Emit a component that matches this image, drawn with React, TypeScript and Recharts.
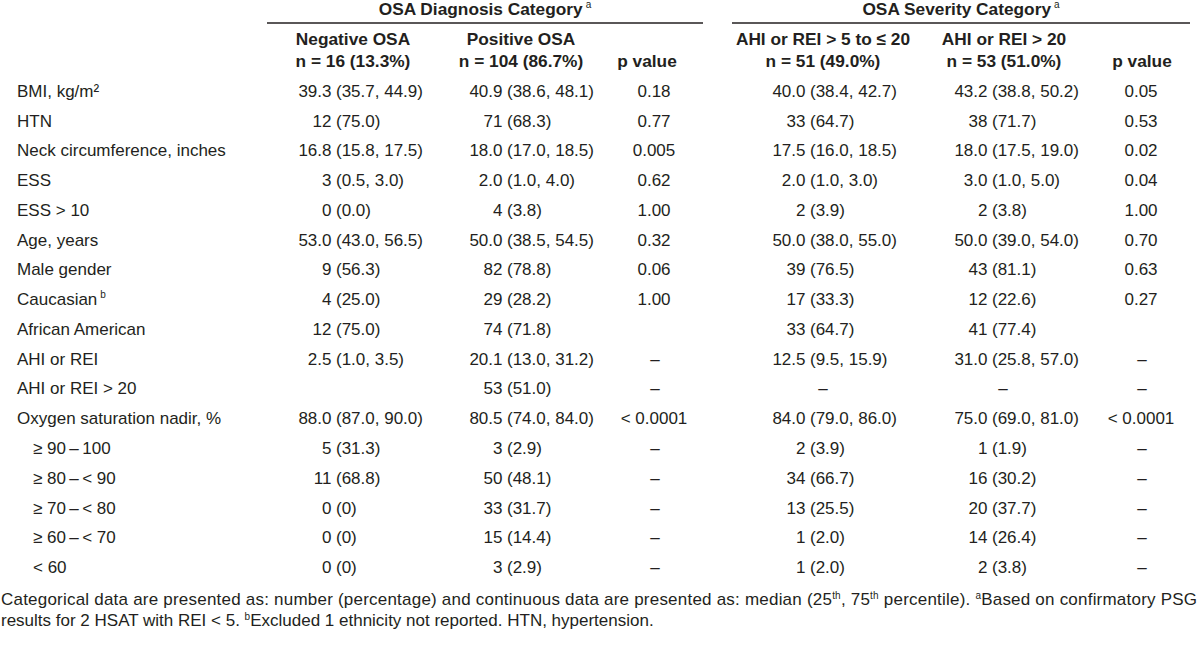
import React from "react";
import { ScatterChart, Scatter, XAxis, YAxis, Customized } from "recharts";

// rows of the table (top to bottom)
const rowLabels = [
  "BMI, kg/m²",
  "HTN",
  "Neck circumference, inches",
  "ESS",
  "ESS > 10",
  "Age, years",
  "Male gender",
  "Caucasian",
  "African American",
  "AHI or REI",
  "AHI or REI > 20",
  "Oxygen saturation nadir, %",
  "≥ 90\u2009–\u2009100",
  "≥ 80\u2009–\u2009< 90",
  "≥ 70\u2009–\u2009< 80",
  "≥ 60\u2009–\u2009< 70",
  "< 60",
];
const subRows = rowLabels.slice(12);
const labelNotes: Record<string, string> = { Caucasian: "b" };

const negativeOsa = [
  "39.3 (35.7, 44.9)", "12 (75.0)", "16.8 (15.8, 17.5)", "3 (0.5, 3.0)", "0 (0.0)",
  "53.0 (43.0, 56.5)", "9 (56.3)", "4 (25.0)", "12 (75.0)", "2.5 (1.0, 3.5)", "",
  "88.0 (87.0, 90.0)", "5 (31.3)", "11 (68.8)", "0 (0)", "0 (0)", "0 (0)",
];
const positiveOsa = [
  "40.9 (38.6, 48.1)", "71 (68.3)", "18.0 (17.0, 18.5)", "2.0 (1.0, 4.0)", "4 (3.8)",
  "50.0 (38.5, 54.5)", "82 (78.8)", "29 (28.2)", "74 (71.8)", "20.1 (13.0, 31.2)", "53 (51.0)",
  "80.5 (74.0, 84.0)", "3 (2.9)", "50 (48.1)", "33 (31.7)", "15 (14.4)", "3 (2.9)",
];
const pDiagnosis = [
  "0.18", "0.77", "0.005", "0.62", "1.00", "0.32", "0.06", "1.00", "", "–", "–",
  "< 0.0001", "–", "–", "–", "–", "–",
];
const ahiModerate = [
  "40.0 (38.4, 42.7)", "33 (64.7)", "17.5 (16.0, 18.5)", "2.0 (1.0, 3.0)", "2 (3.9)",
  "50.0 (38.0, 55.0)", "39 (76.5)", "17 (33.3)", "33 (64.7)", "12.5 (9.5, 15.9)", "–",
  "84.0 (79.0, 86.0)", "2 (3.9)", "34 (66.7)", "13 (25.5)", "1 (2.0)", "1 (2.0)",
];
const ahiSevere = [
  "43.2 (38.8, 50.2)", "38 (71.7)", "18.0 (17.5, 19.0)", "3.0 (1.0, 5.0)", "2 (3.8)",
  "50.0 (39.0, 54.0)", "43 (81.1)", "12 (22.6)", "41 (77.4)", "31.0 (25.8, 57.0)", "–",
  "75.0 (69.0, 81.0)", "1 (1.9)", "16 (30.2)", "20 (37.7)", "14 (26.4)", "2 (3.8)",
];
const pSeverity = [
  "0.05", "0.53", "0.02", "0.04", "1.00", "0.70", "0.63", "0.27", "", "–", "–",
  "< 0.0001", "–", "–", "–", "–", "–",
];

const groupTitles = ["OSA Diagnosis Category", "OSA Severity Category"];
const columnTitles = [
  ["Negative OSA", "n = 16 (13.3%)"],
  ["Positive OSA", "n = 104 (86.7%)"],
  ["", "p value"],
  ["AHI or REI > 5 to ≤ 20", "n = 51 (49.0%)"],
  ["AHI or REI > 20", "n = 53 (51.0%)"],
  ["", "p value"],
];
const footnoteLines = [
  [
    { t: "Categorical data are presented as: number (percentage) and continuous data are presented as: median (25" },
    { t: "th", sup: true },
    { t: ", 75" },
    { t: "th", sup: true },
    { t: " percentile). " },
    { t: "a", sup: true },
    { t: "Based on confirmatory PSG" },
  ],
  [
    { t: "results for 2 HSAT with REI < 5. " },
    { t: "b", sup: true },
    { t: "Excluded 1 ethnicity not reported. HTN, hypertension." },
  ],
];

// layout
const FONT = '"Liberation Sans", Arial, Helvetica, sans-serif';
const INK = "#231f20";
const FS = 17;
const columns = [
  { values: rowLabels, x: 17, dash: 17, mode: "label", head: 0 },
  { values: negativeOsa, x: 336, dash: 355, mode: "paren", head: 353 },
  { values: positiveOsa, x: 507, dash: 525, mode: "paren", head: 521 },
  { values: pDiagnosis, x: 654, dash: 655, mode: "center", head: 647 },
  { values: ahiModerate, x: 810, dash: 823, mode: "paren", head: 823 },
  { values: ahiSevere, x: 992, dash: 1003, mode: "paren", head: 1004 },
  { values: pSeverity, x: 1141, dash: 1142, mode: "center", head: 1142 },
];
const groups = [
  { center: 485, x1: 267, x2: 703 },
  { center: 961, x1: 732, x2: 1190 },
];

const textProps = { fontFamily: FONT, fill: INK, fontSize: FS };

const cellShape = (col: (typeof columns)[number]) => (props: any) => {
  const { cx, cy, payload } = props;
  const text: string = payload.text;
  if (!text) return <g />;
  if (col.mode === "label") {
    const note = labelNotes[text];
    return (
      <text x={subRows.includes(text) ? cx + 16 : cx} y={cy} dy="0.35em" textAnchor="start" {...textProps}>
        {text}
        {note && (
          <tspan dx={3} dy={-7} fontSize={10}>
            {note}
          </tspan>
        )}
      </text>
    );
  }
  if (text === "–" || col.mode === "center") {
    return (
      <text x={text === "–" ? col.dash : cx} y={cy} dy="0.35em" textAnchor="middle" {...textProps}>
        {text}
      </text>
    );
  }
  const i = text.indexOf("(");
  return (
    <g>
      <text x={cx - 4.5} y={cy} dy="0.35em" textAnchor="end" {...textProps}>
        {text.slice(0, i).trim()}
      </text>
      <text x={cx} y={cy} dy="0.35em" textAnchor="start" {...textProps}>
        {text.slice(i)}
      </text>
    </g>
  );
};

const TableFrame = () => (
  <g>
    {groups.map((g, i) => (
      <g key={groupTitles[i]}>
        <text x={g.center} y={15} textAnchor="middle" fontWeight="bold" {...textProps} fontSize={17.3}>
          {groupTitles[i]}
          <tspan dx={3} dy={-7} fontSize={10} fontWeight="normal">
            a
          </tspan>
        </text>
        <line x1={g.x1} x2={g.x2} y1={23} y2={23} stroke={INK} strokeWidth={1.4} />
      </g>
    ))}
    {columnTitles.map((lines, i) => (
      <g key={i}>
        {lines.map((t, j) =>
          t ? (
            <text key={j} x={columns[i + 1].head} y={45 + j * 22} textAnchor="middle" fontWeight="bold" {...textProps} fontSize={17.3}>
              {t}
            </text>
          ) : null
        )}
      </g>
    ))}
    {footnoteLines.map((parts, i) => (
      <text
        key={i}
        x={1}
        y={605 + i * 21}
        {...textProps}
        style={{ whiteSpace: "pre" }}
        textLength={i === 0 ? 1196 : undefined}
        lengthAdjust="spacing"
      >
        {parts.map((p, j) =>
          p.sup ? (
            <tspan key={j} dy={-6} fontSize={10}>
              {p.t}
            </tspan>
          ) : (
            <tspan key={j} dy={j > 0 && parts[j - 1].sup ? 6 : 0}>
              {p.t}
            </tspan>
          )
        )}
      </text>
    ))}
  </g>
);

export default function App() {
  return (
    <div style={{ position: "absolute", left: 0, top: 0, width: 1200, height: 650, background: "#fff" }}>
      <ScatterChart width={1200} height={650} margin={{ top: 76, right: 0, bottom: 68, left: 0 }}>
        <XAxis type="number" dataKey="x" domain={[0, 1200]} hide />
        <YAxis type="category" dataKey="row" reversed hide allowDuplicatedCategory={false} />
        {columns.map((col, ci) => (
          <Scatter
            key={ci}
            data={rowLabels.map((row, ri) => ({ x: col.x, row, text: col.values[ri] }))}
            shape={cellShape(col)}
            isAnimationActive={false}
          />
        ))}
        <Customized component={<TableFrame />} />
      </ScatterChart>
    </div>
  );
}
